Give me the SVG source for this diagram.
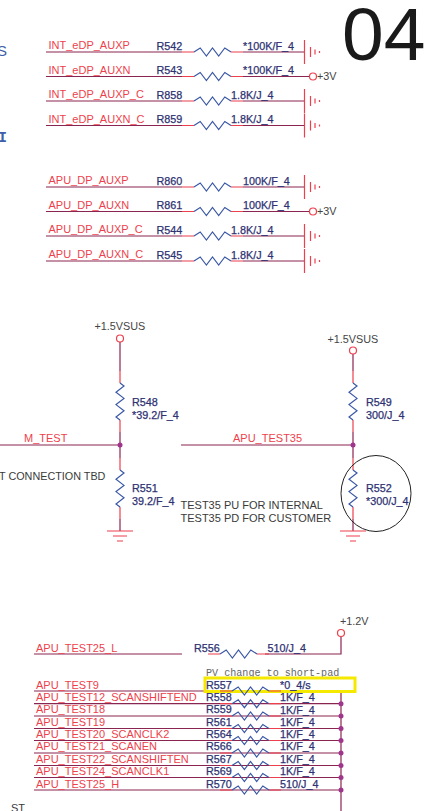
<svg xmlns="http://www.w3.org/2000/svg" width="428" height="811" viewBox="0 0 428 811">
<defs>
<style>
text{font-family:"Liberation Sans",Arial,sans-serif;font-size:10.8px}
.net{fill:#ee3f4c;font-size:11px}
.ref{fill:#2e3172;stroke:#2e3172;stroke-width:.25}
.pw{fill:#444;}
.note{fill:#3a3a3a;font-size:11px}
.blue{fill:#3f5fa8;font-size:15px}
.w{fill:none;stroke:#8a2450;stroke-width:1.200}
.r{fill:none;stroke:#ee3f4c;stroke-width:1.200}
.z{fill:none;stroke:#3a58a6;stroke-width:1.200}
.p{fill:#fff;stroke:#ee3f4c;stroke-width:1.200}
.d{fill:#a0358c}
</style>
<g id="rh"><path class="r" d="M-12 0H0M37 0H49"/><path class="z" d="M0 0L6.200 -4L12.400 4L18.500 -4L24.700 4L30.800 -4L37 0"/></g>
<g id="rv"><path class="r" d="M0 -12V0M0 37V49"/><path class="z" d="M0 0L4 3.100L-4 9.200L4 15.400L-4 21.600L4 27.800L-4 33.900L0 37"/></g>
<g id="gh"><path class="r" d="M0 -12V12M6 -5V5M10.500 -2.500V2.500M15 -1V1"/></g>
<g id="gv"><path class="r" d="M-13 0H13M-7 5H7M-3 10H3"/></g>
</defs>
<g id="page-number"><text x="342" y="60" style="font-size:75px" fill="#1a1a1a">04</text></g>
<g id="margin-labels"><text class="blue" x="-3" y="56">S</text><text class="blue" x="-2" y="142" style="font-family:'Liberation Mono',monospace;font-weight:bold">I</text><text class="note" x="11" y="812">ST</text></g>
<g id="connectors">
<path class="w" d="M46 52H182M243 52H304M46 76.500H182M243 76.500H310M46 101H182M243 101H304M46 125.500H182M243 125.500H304"/>
<path class="w" d="M46 187H182M243 187H304M46 211.500H182M243 211.500H310M46 236H182M243 236H304M46 261H182M243 261H304"/>
<path class="w" d="M0 445H120M181 445H353M120 341V371M120 432V458M120 519V531M353 353V371M353 432V458M353 519V531"/>
<path class="w" d="M34 654H182M265 654H341V636M34 691H205M34 703.700H341M34 716H341M34 728.500H341M34 740.500H341M34 753H341M34 765.500H341M34 777.500H341M34 790H341M341 692V811"/>
</g>
<g id="R542"><text class="net" x="48.500" y="49">INT_eDP_AUXP</text><text class="ref" x="156.500" y="50">R542</text><use href="#rh" x="194" y="52"/><text class="ref" x="243" y="50">*100K/F_4</text><use href="#gh" x="304.500" y="52"/></g>
<g id="R543"><text class="net" x="48.500" y="73.500">INT_eDP_AUXN</text><text class="ref" x="156.500" y="74">R543</text><use href="#rh" x="194" y="76.500"/><text class="ref" x="243" y="74">*100K/F_4</text><circle class="p" cx="313" cy="76.500" r="3.500"/><text class="pw" x="317" y="79.500">+3V</text></g>
<g id="R858"><text class="net" x="48.500" y="98">INT_eDP_AUXP_C</text><text class="ref" x="156.500" y="99">R858</text><use href="#rh" x="194" y="101"/><text class="ref" x="231" y="99">1.8K/J_4</text><use href="#gh" x="304.500" y="101"/></g>
<g id="R859"><text class="net" x="48.500" y="122.500">INT_eDP_AUXN_C</text><text class="ref" x="156.500" y="123">R859</text><use href="#rh" x="194" y="125.500"/><text class="ref" x="231" y="123">1.8K/J_4</text><use href="#gh" x="304.500" y="125.500"/></g>
<g id="R860"><text class="net" x="48.500" y="184">APU_DP_AUXP</text><text class="ref" x="156.500" y="185">R860</text><use href="#rh" x="194" y="187"/><text class="ref" x="243" y="185">100K/F_4</text><use href="#gh" x="304.500" y="187"/></g>
<g id="R861"><text class="net" x="48.500" y="208.500">APU_DP_AUXN</text><text class="ref" x="156.500" y="209">R861</text><use href="#rh" x="194" y="211.500"/><text class="ref" x="243" y="209">100K/F_4</text><circle class="p" cx="313" cy="211.500" r="3.500"/><text class="pw" x="317" y="214.500">+3V</text></g>
<g id="R544"><text class="net" x="48.500" y="233">APU_DP_AUXP_C</text><text class="ref" x="156.500" y="234">R544</text><use href="#rh" x="194" y="236"/><text class="ref" x="231" y="234">1.8K/J_4</text><use href="#gh" x="304.500" y="236"/></g>
<g id="R545"><text class="net" x="48.500" y="258">APU_DP_AUXN_C</text><text class="ref" x="156.500" y="259">R545</text><use href="#rh" x="194" y="261"/><text class="ref" x="231" y="259">1.8K/J_4</text><use href="#gh" x="304.500" y="261"/></g>
<g id="R548"><text class="pw" x="94.500" y="330">+1.5VSUS</text><circle class="p" cx="120" cy="338.500" r="3.500"/><use href="#rv" x="120" y="383"/><text class="ref" x="132" y="406">R548</text><text class="ref" x="132" y="419">*39.2/F_4</text></g>
<g id="M_TEST"><text class="net" x="24" y="442">M_TEST</text><circle class="d" cx="120" cy="445" r="2.500"/><text class="note" x="-1" y="480" style="font-size:10.800px">T CONNECTION TBD</text></g>
<g id="R551"><use href="#rv" x="120" y="470"/><text class="ref" x="132" y="492">R551</text><text class="ref" x="132" y="505">39.2/F_4</text><use href="#gv" x="120" y="531"/></g>
<g id="R549"><text class="pw" x="327.500" y="343">+1.5VSUS</text><circle class="p" cx="353" cy="350.500" r="3.500"/><use href="#rv" x="353" y="383"/><text class="ref" x="366" y="406">R549</text><text class="ref" x="366" y="419">300/J_4</text></g>
<g id="APU_TEST35"><text class="net" x="233" y="442">APU_TEST35</text><circle class="d" cx="353" cy="445" r="2.500"/><text class="note" x="180.500" y="509">TEST35 PU FOR INTERNAL</text><text class="note" x="180.500" y="522">TEST35 PD FOR CUSTOMER</text></g>
<g id="R552"><use href="#rv" x="353" y="470"/><text class="ref" x="366" y="492">R552</text><text class="ref" x="366" y="505">*300/J_4</text><use href="#gv" x="353" y="531"/><ellipse cx="376" cy="493.500" rx="35" ry="38" fill="none" stroke="#222" stroke-width="1"/></g>
<g id="R556"><text class="net" x="36" y="652">APU_TEST25_L</text><text class="ref" x="194" y="652">R556</text><use href="#rh" x="220" y="654"/><text class="ref" x="267.500" y="652">510/J_4</text><text class="pw" x="340" y="625">+1.2V</text><circle class="p" cx="341" cy="633" r="3.500"/></g>
<g id="note"><text x="206" y="676" style="font-family:'Liberation Mono',monospace;font-size:10.100px" fill="#666">PV change to short-pad</text></g>
<g id="R557"><rect x="205" y="678" width="150" height="13.500" fill="none" stroke="#f5e900" stroke-width="3"/><text class="net" x="36" y="689">APU_TEST9</text><text class="ref" x="206" y="689">R557</text><use href="#rh" x="232" y="691"/><text class="ref" x="280" y="689">*0_4/s</text></g>
<g id="R558"><text class="net" x="36" y="701">APU_TEST12_SCANSHIFTEND</text><text class="ref" x="206" y="701">R558</text><use href="#rh" x="232" y="703.700"/><text class="ref" x="280" y="701">1K/F_4</text><circle class="d" cx="341" cy="703.700" r="2.500"/></g>
<g id="R559"><text class="net" x="36" y="713">APU_TEST18</text><text class="ref" x="206" y="713">R559</text><use href="#rh" x="232" y="716"/><text class="ref" x="280" y="713.500">1K/F_4</text><circle class="d" cx="341" cy="716" r="2.500"/></g>
<g id="R561"><text class="net" x="36" y="726">APU_TEST19</text><text class="ref" x="206" y="726">R561</text><use href="#rh" x="232" y="728.500"/><text class="ref" x="280" y="726">1K/F_4</text><circle class="d" cx="341" cy="728.500" r="2.500"/></g>
<g id="R564"><text class="net" x="36" y="738">APU_TEST20_SCANCLK2</text><text class="ref" x="206" y="738">R564</text><use href="#rh" x="232" y="740.500"/><text class="ref" x="280" y="738">1K/F_4</text><circle class="d" cx="341" cy="740.500" r="2.500"/></g>
<g id="R566"><text class="net" x="36" y="750">APU_TEST21_SCANEN</text><text class="ref" x="206" y="750">R566</text><use href="#rh" x="232" y="753"/><text class="ref" x="280" y="750">1K/F_4</text><circle class="d" cx="341" cy="753" r="2.500"/></g>
<g id="R567"><text class="net" x="36" y="762.500">APU_TEST22_SCANSHIFTEN</text><text class="ref" x="206" y="762.500">R567</text><use href="#rh" x="232" y="765.500"/><text class="ref" x="280" y="763">1K/F_4</text><circle class="d" cx="341" cy="765.500" r="2.500"/></g>
<g id="R569"><text class="net" x="36" y="775">APU_TEST24_SCANCLK1</text><text class="ref" x="206" y="775">R569</text><use href="#rh" x="232" y="777.500"/><text class="ref" x="280" y="775">1K/F_4</text><circle class="d" cx="341" cy="777.500" r="2.500"/></g>
<g id="R570"><text class="net" x="36" y="787.500">APU_TEST25_H</text><text class="ref" x="206" y="787.500">R570</text><use href="#rh" x="232" y="790"/><text class="ref" x="280" y="787.500">510/J_4</text><circle class="d" cx="341" cy="790" r="2.500"/></g>
</svg>
